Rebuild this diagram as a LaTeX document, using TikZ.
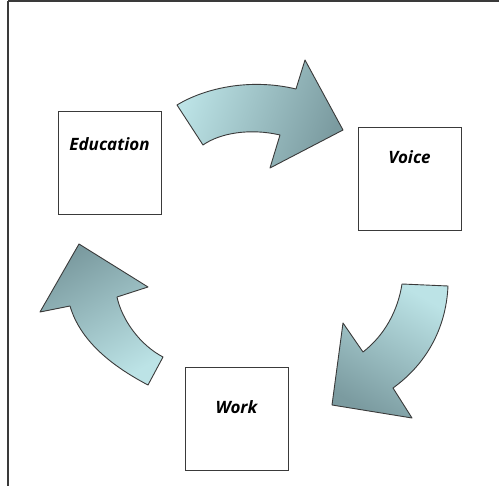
\documentclass[tikz,border=0pt]{standalone}
\usepackage{fontspec}
\setmainfont{Open Sans}
\usepackage{tikz}
\definecolor{flowlight}{HTML}{BCE3E6}
\definecolor{flowdark}{HTML}{7B9BA0}
\definecolor{rim}{HTML}{3A3A3A}

\begin{document}
\begin{tikzpicture}[x=1pt, y=-1pt,
    every node/.style={inner sep=0pt},
    box/.style={draw=rim, line width=0.9pt, minimum width=103pt, minimum height=103pt},
    word/.style={font=\fontsize{17}{19}\selectfont\bfseries\itshape},
    flow/.style={draw=rim, line width=0.9pt, line join=round, shading=axis,
        left color=flowlight, middle color=flowlight, right color=flowdark}]
            \useasboundingbox (0,0) rectangle (499,486);
            \draw[rim, line width=2pt] (8,1.5) -- (499,1.5);
            \draw[rim, line width=2pt] (8,1.5) -- (8,486);
            \draw (109.5,163) node[box](edu){};
            \draw (409.5,178.5) node[box](voice){};
            \draw (236.5,418.5) node[box](work){};
            \node[word] (edutxt) at ([yshift=-33pt]edu.north) {Education};
            \node[word] (voicetxt) at ([yshift=-31pt]voice.north) {Voice};
            \node[word] (worktxt) at ([yshift=-41pt]work.north) {Work};
            \draw[flow, shading angle=70] (177,105) .. controls (205,88) and (250,78) .. (296,89)
                -- (305,60) -- (343,130) -- (270,168) -- (280,135)
                .. controls (250,128) and (220,133) .. (203,145) -- cycle;
            \draw[flow, shading angle=-30] (402,284) -- (448,286)
                .. controls (446,330) and (425,365) .. (393,388)
                -- (412,418) -- (332,405) -- (343,323) -- (363,352)
                .. controls (385,335) and (398,310) .. (402,284) -- cycle;
            \draw[flow, shading angle=210] (163,357) -- (148,385)
                .. controls (110,365) and (80,340) .. (70,306)
                -- (40,312) -- (79,244) -- (148,287) -- (117,297)
                .. controls (122,320) and (140,345) .. (163,357) -- cycle;
        \end{tikzpicture}
\end{document}
